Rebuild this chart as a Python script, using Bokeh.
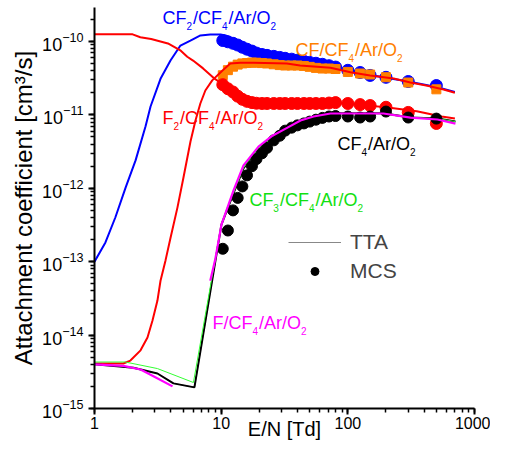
import math
from bokeh.plotting import figure
from bokeh.models import Legend, LegendItem, PrintfTickFormatter
from bokeh.embed import file_html
from bokeh.resources import INLINE
from bokeh.core.properties import value

FONT = "Liberation Sans"

# ---------------- TTA curves ----------------
cf2_tta_e = [1, 1.22, 1.46, 1.76, 2.11, 2.53, 2.77, 3.32, 3.98, 4.77, 5.72, 6.86, 8.2, 9.9,
             11, 13, 15, 20, 30, 50, 100, 200, 300, 500, 700]
cf2_tta_k = [1.0e-13, 1.83e-13, 4.0e-13, 1.02e-12, 2.4e-12, 7.0e-12, 1.3e-11, 3.1e-11, 5.5e-11,
             8.8e-11, 1.03e-10, 1.21e-10, 1.245e-10, 1.245e-10, 1.2e-10, 1.05e-10, 9.0e-11,
             7.2e-11, 6.0e-11, 5.2e-11, 4.0e-11, 3.2e-11, 2.85e-11, 2.4e-11, 2.05e-11]

cf_tta_e = [1, 1.69, 1.92, 2.31, 2.62, 2.87, 3.14, 3.32, 3.64, 3.98, 4.52, 5.04, 5.72, 6.27,
            6.85, 7.5, 8.5, 10.2, 11.8, 14.2, 18, 33, 42, 73, 105, 150, 230, 312, 425, 570, 700]
cf_tta_k = [4.1e-15, 4.1e-15, 4.5e-15, 6.2e-15, 9.3e-15, 1.58e-14, 2.95e-14, 5.5e-14, 1.05e-13,
            2.1e-13, 5.5e-13, 1.4e-12, 4.3e-12, 8.4e-12, 1.43e-11, 2.15e-11, 2.95e-11, 4.0e-11,
            5.0e-11, 5.15e-11, 5.15e-11, 5.0e-11, 4.7e-11, 4.4e-11, 3.8e-11, 3.45e-11, 3.13e-11,
            2.76e-11, 2.5e-11, 2.22e-11, 2.0e-11]

f2_tta_e = [1, 2.0, 2.3, 2.8, 3.8, 4.8, 5.4, 6.0, 7.2, 8.7, 10, 11.5, 13, 15, 18, 22, 30, 50,
            80, 120, 200, 350, 550, 700]
f2_tta_k = [1.25e-10, 1.25e-10, 1.14e-10, 1.08e-10, 9.4e-11, 7.5e-11, 6.2e-11, 5.5e-11, 4.3e-11,
            3.2e-11, 2.7e-11, 2.3e-11, 1.95e-11, 1.7e-11, 1.52e-11, 1.46e-11, 1.44e-11, 1.45e-11,
            1.46e-11, 1.38e-11, 1.27e-11, 1.12e-11, 9.5e-12, 8.9e-12]

cf4_tta_e = [1, 2.03, 3.14, 4.2, 6.15, 10.05, 12.5, 15.0, 19.7, 25.4, 33.4, 42.3, 53.6, 69,
             87.6, 191, 312, 510, 707]
cf4_tta_k = [4.0e-15, 3.6e-15, 3.0e-15, 2.2e-15, 1.94e-15, 3.2e-13, 8.5e-13, 1.86e-12, 3.5e-12,
             4.9e-12, 6.5e-12, 8.1e-12, 9.2e-12, 1.01e-11, 1.05e-11, 1.05e-11, 9.2e-12, 8.9e-12,
             8.1e-12]

cf3_tta_e = [1, 1.75, 3.14, 6.04, 10.05, 12.5, 15.0, 19.7, 25.4, 33.4, 42.3, 53.6, 69, 87.6,
             191, 312, 510, 707]
cf3_tta_k = [4.3e-15, 4.3e-15, 3.5e-15, 2.26e-15, 3.3e-13, 8.6e-13, 1.9e-12, 3.5e-12, 4.9e-12,
             6.5e-12, 8.1e-12, 9.2e-12, 1.01e-11, 1.05e-11, 1.05e-11, 9.2e-12, 8.9e-12, 8.1e-12]

f_tta_low_e = [1, 1.69, 2.31, 2.92, 4.13]
f_tta_low_k = [4.0e-15, 3.8e-15, 3.4e-15, 2.75e-15, 2.0e-15]
f_tta_high_e = [8.2, 9.0, 10.05, 12.5, 15.0, 19.7, 25.4, 33.4, 42.3, 53.6, 73, 191, 312, 510, 707]
f_tta_high_k = [5.5e-14, 1.1e-13, 3.2e-13, 9.3e-13, 2.05e-12, 3.7e-12, 5.2e-12, 6.7e-12, 8.4e-12,
                9.5e-12, 1.045e-11, 1.045e-11, 9.2e-12, 8.65e-12, 7.6e-12]

# ---------------- MCS points ----------------
mcs_e = [10.3, 11.3, 12.4, 13.5, 14.7, 16, 17.5, 19, 21, 23, 26, 29, 32, 36, 40, 45, 50, 56,
         63, 71, 80, 100, 125, 150, 200, 300, 500]
cf2_mcs = [1.03e-10, 9.9e-11, 9.45e-11, 8.95e-11, 8.35e-11, 7.85e-11, 7.4e-11, 6.95e-11,
           6.65e-11, 6.47e-11, 6.27e-11, 6.07e-11, 5.9e-11, 5.74e-11, 5.56e-11, 5.37e-11,
           5.19e-11, 5.05e-11, 4.89e-11, 4.68e-11, 4.48e-11, 4.05e-11, 3.78e-11, 3.45e-11,
           3.25e-11, 2.85e-11, 2.51e-11]
cf_mcs = [3.47e-11, 4.07e-11, 4.54e-11, 4.84e-11, 5.03e-11, 5.09e-11, 5.16e-11, 5.14e-11,
          5.08e-11, 5.02e-11, 4.89e-11, 4.77e-11, 4.71e-11, 4.71e-11, 4.71e-11, 4.64e-11,
          4.51e-11, 4.37e-11, 4.28e-11, 4.28e-11, 4.22e-11, 3.85e-11, 3.66e-11, 3.55e-11,
          3.26e-11, 2.76e-11, 2.23e-11]
f2_mcs = [2.58e-11, 2.27e-11, 2.05e-11, 1.8e-11, 1.63e-11, 1.53e-11, 1.47e-11, 1.44e-11,
          1.43e-11, 1.43e-11, 1.43e-11, 1.43e-11, 1.43e-11, 1.43e-11, 1.43e-11, 1.43e-11,
          1.43e-11, 1.43e-11, 1.43e-11, 1.45e-11, 1.47e-11, 1.43e-11, 1.38e-11, 1.34e-11,
          1.27e-11, 1.08e-11, 7.64e-12]
cf4_mcs = [1.5e-13, 2.66e-13, 5.0e-13, 7.4e-13, 1.06e-12, 1.5e-12, 2.0e-12, 2.5e-12, 3.0e-12,
           3.55e-12, 4.5e-12, 5.2e-12, 6.1e-12, 6.7e-12, 7.2e-12, 7.65e-12, 8.1e-12, 8.6e-12,
           9.1e-12, 9.5e-12, 9.65e-12, 9.5e-12, 9.2e-12, 9.5e-12, 1.11e-11, 9.2e-12, 8.9e-12]

BLUE, RED, ORANGE, GREEN, MAGENTA = "#0000ff", "#ff0000", "#ff8000", "#11e011", "#ff00ff"

p = figure(width=490, height=443, x_axis_type="log", y_axis_type="log",
           x_range=(1, 1000), y_range=(1e-15, 10 ** -9.537),
           output_backend="svg", toolbar_location=None,
           min_border_left=94, min_border_right=16, min_border_top=7, min_border_bottom=35)
p.outline_line_color = None
p.grid.visible = False

for ax in (p.xaxis[0], p.yaxis[0]):
    ax.axis_line_width = 2
    ax.major_tick_line_width = 2
    ax.minor_tick_line_width = 1.5
    ax.major_tick_out = 6
    ax.major_tick_in = 0
    ax.minor_tick_out = 4
    ax.minor_tick_in = 0
    ax.axis_label_text_font = FONT
    ax.axis_label_text_font_style = "normal"
    ax.major_label_text_font = FONT
    ax.major_label_text_color = "black"
    ax.axis_label_text_color = "black"

p.xaxis.formatter = PrintfTickFormatter(format="%d")
p.xaxis.axis_label = "E/N [Td]"
p.xaxis.axis_label_text_font_size = "20px"
p.xaxis.major_label_text_font_size = "16px"
p.xaxis.major_label_standoff = 2
p.xaxis.axis_label_standoff = -14
p.yaxis.axis_label = "Attachment coefficient [cm³/s]"
p.yaxis.axis_label_text_font_size = "24px"
p.yaxis.major_label_text_font_size = "18px"
p.yaxis.major_label_standoff = 5
p.yaxis.axis_label_standoff = 2

# TTA lines and MCS markers (drawing order matters for overlaps)
p.line(cf2_tta_e, cf2_tta_k, line_color=BLUE, line_width=2)
p.scatter(mcs_e, cf2_mcs, marker="circle", size=12, fill_color=BLUE, line_color=BLUE)
p.scatter(mcs_e, cf_mcs, marker="square", size=9, fill_color=ORANGE, line_color=ORANGE)
p.line(cf_tta_e, cf_tta_k, line_color=RED, line_width=2)
p.line(f2_tta_e, f2_tta_k, line_color=RED, line_width=2)
p.scatter(mcs_e, f2_mcs, marker="circle", size=12, fill_color=RED, line_color=RED)
# thin grey TTA trace lying under the black one: gives the legend its grey line sample
tta_key = p.line(cf4_tta_e, cf4_tta_k, line_color="#888888", line_width=1)
p.line(cf4_tta_e, cf4_tta_k, line_color="black", line_width=2)
p.line(cf3_tta_e, cf3_tta_k, line_color="#33ff33", line_width=1)
mcs_r = p.scatter(mcs_e, cf4_mcs, marker="circle", size=11, fill_color="black", line_color="black")
p.line(f_tta_low_e, f_tta_low_k, line_color=MAGENTA, line_width=2.2)
p.line(f_tta_high_e, f_tta_high_k, line_color=MAGENTA, line_width=2.2)

legend = Legend(items=[LegendItem(label="TTA", renderers=[tta_key]),
                       LegendItem(label="MCS", renderers=[mcs_r])],
                location=(194, 125), border_line_color=None, background_fill_alpha=0,
                label_text_font=FONT, label_text_font_size="21px", glyph_width=53,
                glyph_height=20, label_height=20, label_standoff=9, spacing=5,
                padding=0, margin=0)
p.add_layout(legend)

# curve labels with subscripts
W = {"C": .722, "F": .611, "/": .278, "A": .667, "r": .333, "O": .778,
     "2": .556, "3": .556, "4": .556}


def draw_label(parts, x, y, color, main=18, sub=10, drop=8):
    xs, ys, texts, xo, yo, fs = [], [], [], [], [], []
    off = 0.0
    for txt, is_sub in parts:
        size = sub if is_sub else main
        xs.append(x)
        ys.append(y)
        texts.append(txt)
        xo.append(off)
        yo.append(drop if is_sub else 0)
        fs.append(f"{size}px")
        off += sum(W[c] for c in txt) * size + (1 if is_sub else 0)
    p.text(x=xs, y=ys, text=texts, x_offset=xo, y_offset=yo, text_font_size=fs,
           text_color=color, text_font=value(FONT), text_baseline="alphabetic",
           text_align="left")


draw_label([("CF", 0), ("2", 1), ("/CF", 0), ("4", 1), ("/Ar/O", 0), ("2", 1)],
           3.44, 2.06e-10, BLUE)
draw_label([("CF/CF", 0), ("4", 1), ("/Ar/O", 0), ("2", 1)], 38.6, 7.6e-11, ORANGE)
draw_label([("F", 0), ("2", 1), ("/CF", 0), ("4", 1), ("/Ar/O", 0), ("2", 1)],
           3.44, 8.93e-12, RED)
draw_label([("CF", 0), ("4", 1), ("/Ar/O", 0), ("2", 1)], 82.8, 4.07e-12, "black")
draw_label([("CF", 0), ("3", 1), ("/CF", 0), ("4", 1), ("/Ar/O", 0), ("2", 1)],
           16.7, 6.82e-13, GREEN)
draw_label([("F/CF", 0), ("4", 1), ("/Ar/O", 0), ("2", 1)], 8.54, 1.44e-14, MAGENTA)

open("out.html", "w").write(file_html(p, INLINE))
